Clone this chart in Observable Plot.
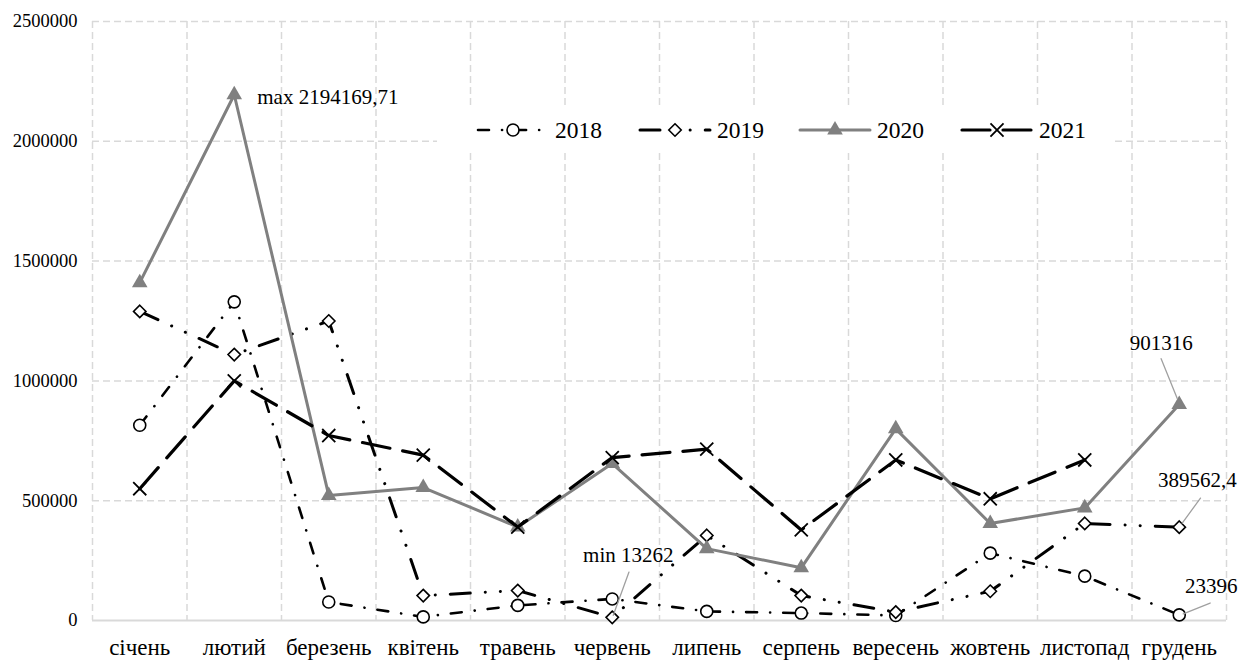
<!DOCTYPE html>
<html><head><meta charset="utf-8">
<script src="https://cdn.jsdelivr.net/npm/d3@7"></script>
<script src="https://cdn.jsdelivr.net/npm/@observablehq/plot@0.6"></script>
<style>body{margin:0;background:#fff}#chart{width:1243px;height:660px}</style>
</head><body><div id="chart"></div>
<script>
// ---- data ----
const months = ["січень","лютий","березень","квітень","травень","червень","липень","серпень","вересень","жовтень","листопад","грудень"];
const seriesNames = ["2018","2019","2020","2021"];
const v2018 = [815000, 1330000, 77000, 15000, 63000, 90000, 38000, 31000, 21000, 281000, 185000, 23396];
const v2019 = [1290000, 1110000, 1250000, 104000, 125000, 13262, 355000, 104000, 35000, 122000, 405000, 389562.4];
const v2020 = [1410000, 2194169.71, 522000, 555000, 390000, 655000, 300000, 220000, 800000, 405000, 470000, 901316];
const v2021 = [550000, 1000000, 772000, 690000, 390000, 680000, 715000, 378000, 670000, 508000, 670000, null];
const yTicks = [0, 500000, 1000000, 1500000, 2000000, 2500000];
const notes = [
  {series: "2020", month: 1, text: "max 2194169,71"},
  {series: "2019", month: 5, text: "min 13262"},
  {series: "2020", month: 11, text: "901316"},
  {series: "2019", month: 11, text: "389562,4"},
  {series: "2018", month: 11, text: "23396"}
];

// ---- build table ----
const valuesBySeries = {"2018": v2018, "2019": v2019, "2020": v2020, "2021": v2021};
const table = [];
seriesNames.forEach(s => valuesBySeries[s].forEach((v, i) => {
  if (v != null) table.push({series: s, month: months[i], pos: i + 0.5, value: v});
}));
const noteRows = notes.map(n => ({...n, pos: n.month + 0.5, value: valuesBySeries[n.series][n.month]}));

// ---- styles ----
const FONT = '"Liberation Serif", "Times New Roman", serif';
const styles = {
  "2018": {line: {stroke: "black", strokeWidth: 2.6, strokeDasharray: "11,13,0.1,13"}, symbol: "circle", d3sym: d3.symbolCircle, dot: {r: 6, fill: "white", stroke: "black", strokeWidth: 1.6}},
  "2019": {line: {stroke: "black", strokeWidth: 3, strokeDasharray: "20,15,0.1,15,0.1,15"}, symbol: "diamond2", d3sym: d3.symbolDiamond2, dot: {r: 5.6, fill: "white", stroke: "black", strokeWidth: 1.6}},
  "2020": {line: {stroke: "#808080", strokeWidth: 3}, symbol: "triangle", d3sym: d3.symbolTriangle, dot: {r: 5.8, fill: "#808080", stroke: "none"}},
  "2021": {line: {stroke: "black", strokeWidth: 3.2, strokeDasharray: "28,13"}, symbol: "times", d3sym: d3.symbolTimes, dot: {r: 6, fill: "none", stroke: "black", strokeWidth: 1.8}}
};

const leader = {draw(ctx, l) { ctx.moveTo(0, 0); ctx.lineTo(0, -l); }};
const noteMark = (idx, o) => Plot.text([noteRows[idx]], {x: "pos", y: "value", text: "text", fontSize: 21, fontFamily: FONT, fill: "black", ...o});
const leaderMark = (idx, o) => Plot.vector([noteRows[idx]], {x: "pos", y: "value", anchor: "start", shape: leader, stroke: "#a0a0a0", strokeWidth: 1.3, ...o});

const seriesMarks = seriesNames.flatMap(s => {
  const rows = table.filter(d => d.series === s);
  return [
    Plot.line(rows, {x: "pos", y: "value", strokeLinecap: "round", strokeLinejoin: "round", ...styles[s].line}),
    Plot.dot(rows, {x: "pos", y: "value", symbol: styles[s].symbol, ...styles[s].dot})
  ];
});

const plot = Plot.plot({
  width: 1243, height: 660,
  marginLeft: 92, marginRight: 17, marginTop: 21, marginBottom: 40,
  style: {fontFamily: FONT, background: "white", color: "black", overflow: "visible"},
  x: {domain: [0, months.length], axis: null},
  y: {domain: [0, 2500000], axis: null},
  marks: [
    Plot.ruleX(d3.range(months.length + 1), {stroke: "#d9d9d9", strokeWidth: 1.5, strokeDasharray: "7,4"}),
    Plot.ruleY(yTicks.filter(d => d > 0), {stroke: "#d9d9d9", strokeWidth: 1.5, strokeDasharray: "7,4"}),
    Plot.ruleY([0], {stroke: "#d9d9d9", strokeWidth: 2}),
    Plot.axisY({ticks: yTicks, tickSize: 0, tickPadding: 15, tickFormat: d => String(d), fontSize: 18.5, fontFamily: FONT, label: null}),
    Plot.axisX({ticks: months.map((m, i) => i + 0.5), tickSize: 0, tickPadding: 18, tickFormat: d => months[Math.floor(d)], fontSize: 23, fontFamily: FONT, label: null}),
    ...seriesMarks,
    leaderMark(1, {length: 46, rotate: 20, dx: 1, dy: -2}),
    leaderMark(2, {length: 43, rotate: -22, dx: -2, dy: -6}),
    leaderMark(3, {length: 31, rotate: 36, dx: 3, dy: -4}),
    leaderMark(4, {length: 29, rotate: 68, dx: 4, dy: -1}),
    noteMark(0, {textAnchor: "start", dx: 23, dy: 2}),
    noteMark(1, {dx: 16, dy: -62}),
    noteMark(2, {dx: -18, dy: -61}),
    noteMark(3, {dx: 18, dy: -47}),
    noteMark(4, {dx: 32, dy: -29})
  ]
});

// ---- legend inside the plot area ----
const svg = d3.select(plot);
const lg = svg.append("g").attr("text-anchor", "start");
lg.append("rect").attr("x", 437).attr("y", 108).attr("width", 678).attr("height", 44).attr("fill", "white");
const legendX = [478, 640, 800, 962];
seriesNames.forEach((s, k) => {
  const x0 = legendX[k], yy = 130, st = styles[s];
  lg.append("line").attr("x1", x0).attr("x2", x0 + 70).attr("y1", yy).attr("y2", yy)
    .attr("stroke", st.line.stroke).attr("stroke-width", st.line.strokeWidth)
    .attr("stroke-dasharray", st.line.strokeDasharray || null).attr("stroke-linecap", "round");
  lg.append("path").attr("transform", `translate(${x0 + 35},${yy})`)
    .attr("d", d3.symbol(st.d3sym, Math.PI * st.dot.r * st.dot.r)())
    .attr("fill", st.dot.fill).attr("stroke", st.dot.stroke).attr("stroke-width", st.dot.strokeWidth || null);
  lg.append("text").attr("x", x0 + 77).attr("y", yy).attr("dy", "0.35em").attr("text-anchor", "start")
    .attr("font-size", 23.5).attr("font-family", FONT).attr("fill", "black").text(s);
});

document.getElementById("chart").appendChild(plot);
</script>
</body></html>
